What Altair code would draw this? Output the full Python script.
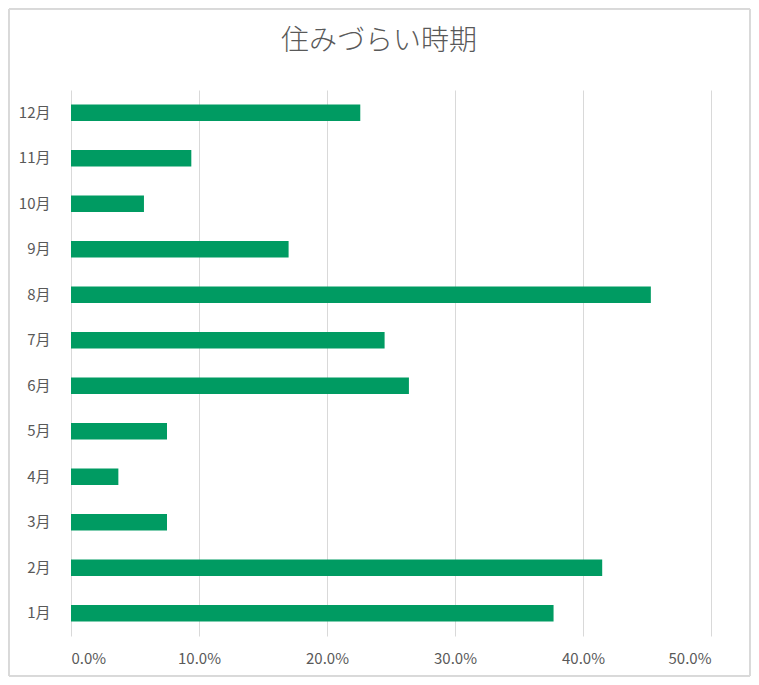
import altair as alt
import pandas as pd

months = ["1月", "2月", "3月", "4月", "5月", "6月", "7月", "8月", "9月", "10月", "11月", "12月"]
values = [0.377, 0.415, 0.075, 0.037, 0.075, 0.264, 0.245, 0.453, 0.170, 0.057, 0.094, 0.226]
x_ticks = [0.0, 0.1, 0.2, 0.3, 0.4, 0.5]
title_text = "住みづらい時期"

df = pd.DataFrame({"month": months, "value": values})

FONT = "Noto Sans CJK JP"
W, H = 640, 546

bars = alt.Chart(df).mark_bar(color="#009B62").encode(
    x=alt.X("value:Q",
            scale=alt.Scale(domain=[0, 0.5], nice=False),
            axis=alt.Axis(values=x_ticks, format=".1%", title=None,
                          domain=False, ticks=False, grid=True,
                          gridColor="#d9d9d9", gridWidth=1,
                          labelFont=FONT, labelFontSize=15, labelColor="#595959",
                          labelPadding=15)),
    y=alt.Y("month:N", sort=list(reversed(months)),
            scale=alt.Scale(paddingInner=0.64, paddingOuter=0.32),
            axis=alt.Axis(title=None, domain=False, ticks=False, grid=False,
                          labelFont=FONT, labelFontSize=15, labelColor="#595959",
                          labelPadding=21)),
)

border = alt.Chart(df).mark_rect(fill=None, stroke="#d9d9d9", strokeWidth=1).encode(
    x=alt.value(-62), x2=alt.value(W + 39),
    y=alt.value(-81), y2=alt.value(H + 40),
)

chart = alt.layer(border, bars).properties(
    width=W, height=H,
    title=alt.TitleParams(title_text, font=FONT, fontSize=28, fontWeight=300,
                          color="#595959", anchor="middle", offset=-47, dx=-12),
    autosize=alt.AutoSizeParams(type="none"),
    padding={"left": 63, "top": 82, "right": 40, "bottom": 41},
).configure(background="white").configure_view(strokeWidth=0, stroke="transparent")

chart.save("out.html", embed_options={"renderer": "svg", "actions": False})
